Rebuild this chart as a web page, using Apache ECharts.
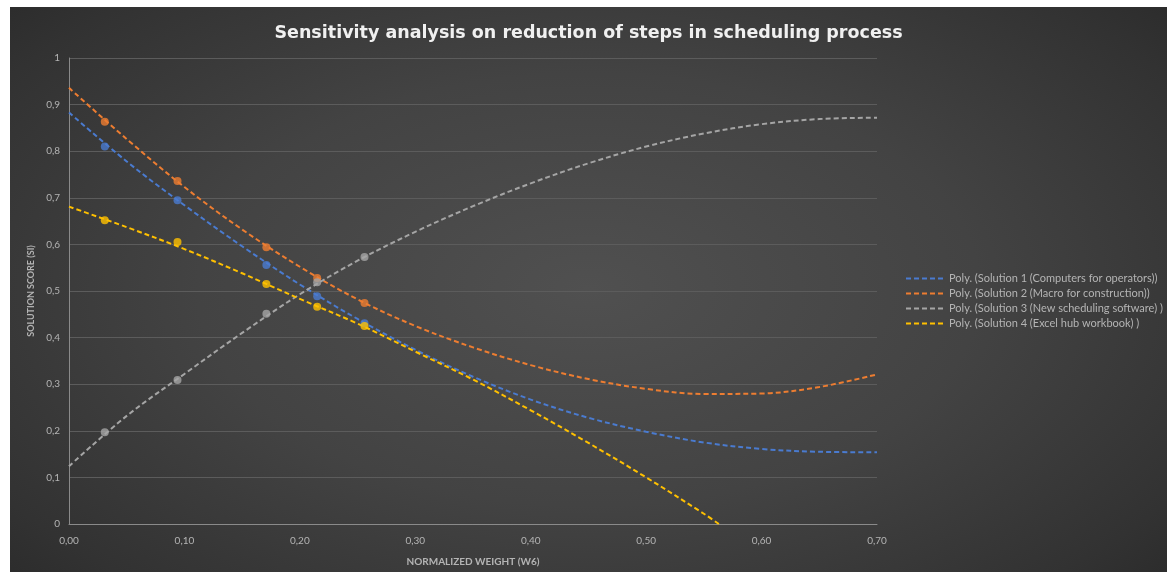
<!DOCTYPE html>
<html>
<head>
<meta charset="utf-8">
<script src="https://cdn.jsdelivr.net/npm/echarts@6/dist/echarts.min.js"></script>
<style>
  html, body { margin: 0; padding: 0; background: #ffffff; width: 1167px; height: 572px; overflow: hidden; }
  #chart {
    position: absolute; left: 10px; top: 7px; width: 1157px; height: 565px;
    background: radial-gradient(ellipse 75% 85% at 50% 50%, #505050 0%, #434343 45%, #323232 80%, #262626 100%);
  }
</style>
</head>
<body>
<div id="chart"></div>
<script>
// Normalized weight (W6) of each evaluated scenario
const weights = [0.031, 0.094, 0.171, 0.215, 0.256];

// Solution scores (SI) at each weight
const solution1 = [0.810, 0.695, 0.556, 0.489, 0.431];
const solution2 = [0.863, 0.736, 0.594, 0.528, 0.474];
const solution3 = [0.197, 0.309, 0.451, 0.519, 0.573];
const solution4 = [0.652, 0.605, 0.515, 0.466, 0.425];

// Polynomial trend curves, sampled along the weight axis
const trendX  = [0.00, 0.05, 0.10, 0.15, 0.20, 0.25, 0.30, 0.35, 0.40, 0.45, 0.50, 0.55, 0.60, 0.65, 0.70];
const trend1  = [0.883, 0.778, 0.684, 0.596, 0.514, 0.440, 0.374, 0.316, 0.267, 0.228, 0.198, 0.175, 0.161, 0.155, 0.154];
const trend2  = [0.936, 0.826, 0.723, 0.632, 0.552, 0.482, 0.425, 0.379, 0.341, 0.311, 0.290, 0.279, 0.280, 0.294, 0.321];
const trend3  = [0.124, 0.232, 0.322, 0.410, 0.493, 0.565, 0.627, 0.682, 0.731, 0.774, 0.810, 0.838, 0.858, 0.869, 0.872];
const trend4X = [0.00, 0.05, 0.10, 0.15, 0.20, 0.25, 0.30, 0.35, 0.40, 0.45, 0.50, 0.55, 0.563];
const trend4  = [0.681, 0.637, 0.590, 0.538, 0.483, 0.430, 0.370, 0.310, 0.244, 0.174, 0.100, 0.022, 0.000];

const names = [
  'Poly. (Solution 1 (Computers for operators))',
  'Poly. (Solution 2 (Macro for construction))',
  'Poly. (Solution 3 (New scheduling software) )',
  'Poly. (Solution 4 (Excel hub workbook) )'
];
const colors = ['#4a7bd0', '#ed7d31', '#a5a5a5', '#ffc000'];

const pairs = (xs, ys) => xs.map((x, i) => [x, ys[i]]);
const comma = (v, d) => v.toFixed(d).replace('.', ',');

const pointSets = [solution1, solution2, solution3, solution4];
const trendSets = [[trendX, trend1], [trendX, trend2], [trendX, trend3], [trend4X, trend4]];

const series = [];
trendSets.forEach(([xs, ys], i) => {
  series.push({
    name: names[i],
    type: 'line',
    data: pairs(xs, ys),
    smooth: 0.35,
    showSymbol: false,
    symbol: 'none',
    lineStyle: { color: colors[i], width: 2, type: [5, 3] },
    itemStyle: { color: colors[i] },
    z: 2
  });
});
pointSets.forEach((ys, i) => {
  series.push({
    name: 'pts' + i,
    type: 'scatter',
    data: pairs(weights, ys),
    symbol: 'circle',
    symbolSize: 8,
    itemStyle: { color: colors[i] },
    z: 3
  });
});

const labelColor = '#b4b4b4';
const chart = echarts.init(document.getElementById('chart'), null, { renderer: 'canvas' });
chart.setOption({
  backgroundColor: 'transparent',
  animation: false,
  title: {
    text: 'Sensitivity analysis on reduction of steps in scheduling process',
    left: 'center',
    top: 12,
    textStyle: { color: '#f0f0f0', fontSize: 17.5, fontWeight: 'bold', fontFamily: 'DejaVu Sans' }
  },
  legend: {
    data: names,
    orient: 'vertical',
    left: 890,
    top: 261,
    itemWidth: 38,
    itemHeight: 10,
    itemGap: 4,
    itemStyle: { opacity: 0 },
    textStyle: { color: labelColor, fontSize: 11, fontFamily: 'Lato' }
  },
  grid: { left: 59, right: 290, top: 51, bottom: 47 },
  xAxis: {
    type: 'value',
    min: 0, max: 0.7, interval: 0.1,
    name: 'NORMALIZED WEIGHT (W6)',
    nameLocation: 'middle',
    nameGap: 33,
    nameTextStyle: { color: labelColor, fontSize: 10, fontWeight: 'bold', fontFamily: 'Lato' },
    axisLine: { lineStyle: { color: '#8a8a8a', width: 1 } },
    axisTick: { show: false },
    splitLine: { show: false },
    axisLabel: { color: labelColor, fontSize: 10, fontFamily: 'Lato', margin: 12, formatter: v => comma(v, 2) }
  },
  yAxis: {
    type: 'value',
    min: 0, max: 1, interval: 0.1,
    name: 'SOLUTION SCORE (SI)',
    nameLocation: 'middle',
    nameRotate: 90,
    nameGap: 28,
    nameTextStyle: { color: labelColor, fontSize: 9, fontWeight: 'bold', fontFamily: 'Lato' },
    axisLine: { show: true, lineStyle: { color: '#8a8a8a', width: 1 } },
    axisTick: { show: false },
    splitLine: { lineStyle: { color: '#5c5c5c', width: 1 } },
    axisLabel: {
      color: labelColor, fontSize: 10, fontFamily: 'Lato', margin: 9,
      formatter: v => (v === 0 || v === 1) ? String(v) : comma(v, 1)
    }
  },
  series: series
});
</script>
</body>
</html>
